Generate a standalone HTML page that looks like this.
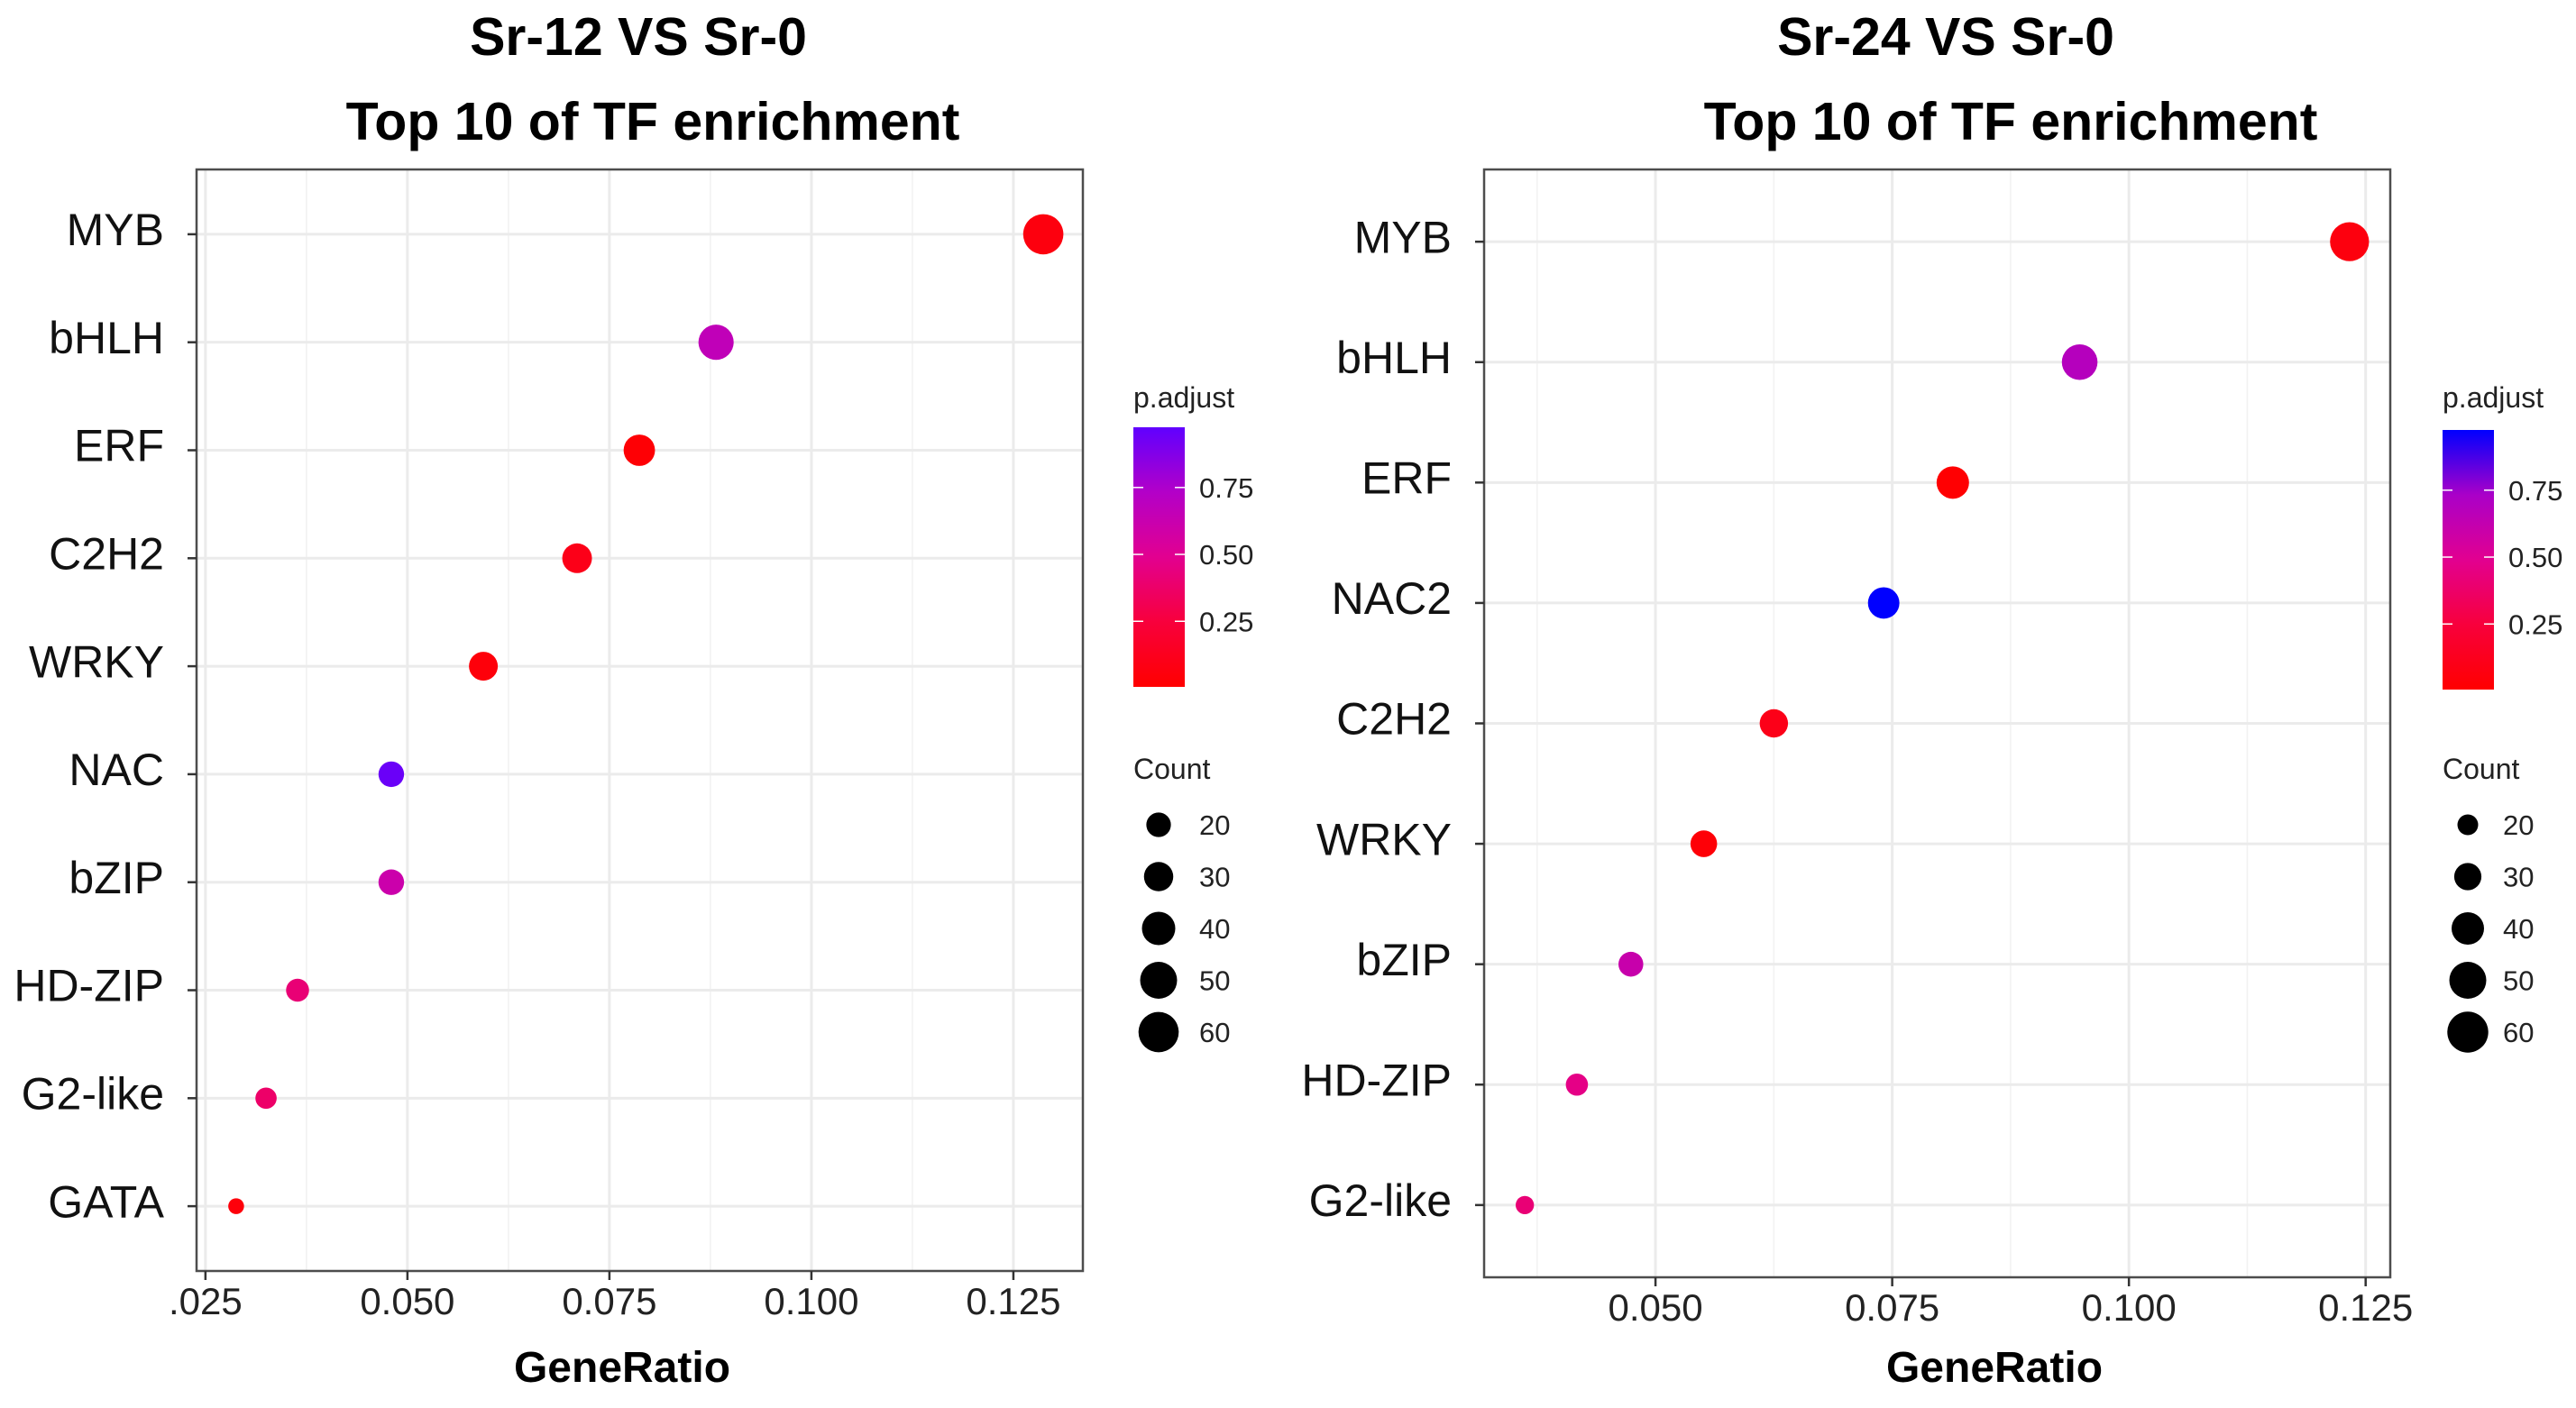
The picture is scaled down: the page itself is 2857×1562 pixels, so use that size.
<!DOCTYPE html>
<html><head><meta charset="utf-8"><style>
html,body{margin:0;padding:0;background:#fff;}
svg{display:block;font-family:"Liberation Sans",Arial,sans-serif;}
</style></head><body>
<svg id="chart" width="2857" height="1562" viewBox="0 0 2857 1562">
<defs>
<linearGradient id="gradL" x1="0" y1="1" x2="0" y2="0">
<stop offset="0" stop-color="#FF0000"/><stop offset="0.25" stop-color="#F8003C"/><stop offset="0.5" stop-color="#E20090"/><stop offset="0.75" stop-color="#B300C8"/><stop offset="1" stop-color="#6000FF"/>
</linearGradient>
<linearGradient id="gradR" x1="0" y1="1" x2="0" y2="0">
<stop offset="0" stop-color="#FF0000"/><stop offset="0.25" stop-color="#F8003C"/><stop offset="0.5" stop-color="#E20090"/><stop offset="0.75" stop-color="#AA00C8"/><stop offset="1" stop-color="#0000FF"/>
</linearGradient>
</defs>
</svg>
<script>
// ---- Panel 1 data (Sr-12 VS Sr-0) ----
const catsL = ["MYB","bHLH","ERF","C2H2","WRKY","NAC","bZIP","HD-ZIP","G2-like","GATA"];
const ratioL = [0.1287,0.0882,0.0787,0.0710,0.0594,0.0480,0.0480,0.0364,0.0325,0.0288];
const countL = [60,45,35,31,29,22,22,17,14,6];
const padjL = [0.06,0.68,0.02,0.10,0.04,0.97,0.62,0.42,0.38,0.04];
const xTicksL = [0.025,0.050,0.075,0.100,0.125];
const xTickLabelsL = [".025","0.050","0.075","0.100","0.125"];
// ---- Panel 2 data (Sr-24 VS Sr-0) ----
const catsR = ["MYB","bHLH","ERF","NAC2","C2H2","WRKY","bZIP","HD-ZIP","G2-like"];
const ratioR = [0.1233,0.0948,0.0814,0.0741,0.0625,0.0551,0.0474,0.0417,0.0362];
const countR = [55,47,40,38,32,29,26,22,17];
const padjR = [0.06,0.70,0.01,1.0,0.10,0.03,0.62,0.47,0.42];
const xTicksR = [0.050,0.075,0.100,0.125];
const xTickLabelsR = ["0.050","0.075","0.100","0.125"];
const legendCounts = [20,30,40,50,60];
const cbTicks = [0.25,0.50,0.75];

const NS="http://www.w3.org/2000/svg";
const svg=document.getElementById('chart');
function el(tag,attrs,parent){const e=document.createElementNS(NS,tag);for(const k in attrs)e.setAttribute(k,attrs[k]);(parent||svg).appendChild(e);return e;}
function hex(c){return [parseInt(c.slice(1,3),16),parseInt(c.slice(3,5),16),parseInt(c.slice(5,7),16)];}
function colorAt(t,stops){t=Math.max(0,Math.min(1,t));for(let i=0;i<stops.length-1;i++){if(t<=stops[i+1][0]){const f=(t-stops[i][0])/(stops[i+1][0]-stops[i][0]);const a=hex(stops[i][1]),b=hex(stops[i+1][1]);return 'rgb('+a.map((v,j)=>Math.round(v+(b[j]-v)*f)).join(',')+')';}}return stops[stops.length-1][1];}
const stopsL=[[0,"#FF0000"],[0.25,"#F8003C"],[0.5,"#E20090"],[0.75,"#B300C8"],[1,"#6000FF"]];
const stopsR=[[0,"#FF0000"],[0.25,"#F8003C"],[0.5,"#E20090"],[0.75,"#AA00C8"],[1,"#0000FF"]];

function panel(cfg){
  const g=el('g',{});
  
  
  const {L,R,T,B,x0,x1}=cfg;
  const xs=v=>L+(v-x0)/(x1-x0)*(R-L);
  const n=cfg.cats.length;
  const step=(B-T)/(n-1+1.2);
  const ys=i=>T+step*(0.6+i);
  for(let i=0;i<cfg.xt.length+1;i++){
    const v=(i===0?cfg.xt[0]-0.0125:cfg.xt[i-1]+0.0125);
    if(v>x0&&v<x1){const m=el('line',{x1:xs(v),x2:xs(v),y1:T,y2:B,stroke:'#F2F2F2','stroke-width':1.6},g);}
  }
  cfg.xt.forEach((v)=>{const m=el('line',{x1:xs(v),x2:xs(v),y1:T,y2:B,stroke:'#EBEBEB','stroke-width':3},g);});
  cfg.cats.forEach((c,i)=>{const m=el('line',{x1:L,x2:R,y1:ys(i),y2:ys(i),stroke:'#EBEBEB','stroke-width':3},g);});
  cfg.cats.forEach((c,i)=>{
    const r=cfg.rf(cfg.count[i]);
    const p=el('circle',{cx:xs(cfg.ratio[i]),cy:ys(i),r:r,fill:colorAt(cfg.padj[i],cfg.stops)},g);
    
    
  });
  const border=el('rect',{x:L,y:T,width:R-L,height:B-T,fill:'none',stroke:'#4D4D4D','stroke-width':2.5},g);
  
  cfg.cats.forEach((c,i)=>{
    el('line',{x1:L-10,x2:L,y1:ys(i),y2:ys(i),stroke:'#333','stroke-width':2.5},g);
    const t=el('text',{x:L-36,y:ys(i)-1,'font-size':50,'text-anchor':'end','dominant-baseline':'middle',fill:'#111'},g);
    t.textContent=c;
    
  });
  cfg.xt.forEach((v,i)=>{
    el('line',{x1:xs(v),x2:xs(v),y1:B,y2:B+10,stroke:'#333','stroke-width':2.5},g);
    const t=el('text',{x:xs(v),y:B+48,'font-size':42,'text-anchor':'middle',fill:'#222'},g);
    t.textContent=cfg.xtl[i];
    
  });
  const xt=el('text',{x:cfg.xTitleX,y:1533,'font-size':48,'font-weight':'bold','text-anchor':'middle'},g);
  xt.textContent='GeneRatio';
  const t1=el('text',{x:cfg.t1x,y:61,'font-size':59,'font-weight':'bold','text-anchor':'middle'},g);
  t1.textContent=cfg.title1;
  const t2=el('text',{x:cfg.t2x,y:155,'font-size':59,'font-weight':'bold','text-anchor':'middle'},g);
  t2.textContent='Top 10 of TF enrichment';
  const lg=cfg.leg;
  const pt=el('text',{x:lg.x,y:452,'font-size':32,fill:'#222'},g);
  pt.textContent='p.adjust';
  const cb=el('rect',{x:lg.x,y:lg.cbT,width:57,height:lg.cbB-lg.cbT,fill:cfg.grad},g);
  
  const cy=v=>lg.cbB-(v-lg.pmin)/(lg.pmax-lg.pmin)*(lg.cbB-lg.cbT);
  cbTicks.forEach(v=>{
    el('line',{x1:lg.x,x2:lg.x+11,y1:cy(v),y2:cy(v),stroke:'#fff','stroke-width':1.5},g);
    el('line',{x1:lg.x+46,x2:lg.x+57,y1:cy(v),y2:cy(v),stroke:'#fff','stroke-width':1.5},g);
    const t=el('text',{x:lg.x+73,y:cy(v)+11,'font-size':31,fill:'#222'},g);
    t.textContent=v.toFixed(2);
  });
  const ct=el('text',{x:lg.x,y:864,'font-size':32,fill:'#222'},g);
  ct.textContent='Count';
  legendCounts.forEach((c,i)=>{
    const yy=915+i*57.5;
    const k=el('circle',{cx:lg.cx,cy:yy,r:cfg.rf(c),fill:'#000'},g);
    
    const t=el('text',{x:lg.lx,y:yy+11,'font-size':31,fill:'#222'},g);
    t.textContent=String(c);
  });
}
panel({name:'panel-sr12',L:218,R:1201,T:188,B:1410,x0:0.0239,x1:0.1336,cats:catsL,ratio:ratioL,count:countL,padj:padjL,xt:xTicksL,xtl:xTickLabelsL,
  rf:c=>Math.sqrt(Math.max(20,30+7.8*c)),stops:stopsL,grad:'url(#gradL)',xTitleX:690,t1x:708,t2x:724,title1:'Sr-12 VS Sr-0',
  leg:{x:1257,cbT:474,cbB:762,pmin:0.005,pmax:0.975,cx:1285,lx:1330}});
panel({name:'panel-sr24',L:1646,R:2651,T:188,B:1417,x0:0.0319,x1:0.1276,cats:catsR,ratio:ratioR,count:countR,padj:padjR,xt:xTicksR,xtl:xTickLabelsR,
  rf:c=>Math.sqrt(Math.max(20,-60+9.6*c)),stops:stopsR,grad:'url(#gradR)',xTitleX:2212,t1x:2158,t2x:2230,title1:'Sr-24 VS Sr-0',
  leg:{x:2709,cbT:477,cbB:765,pmin:0.005,pmax:0.975,cx:2737,lx:2776}});
</script>
</body></html>
